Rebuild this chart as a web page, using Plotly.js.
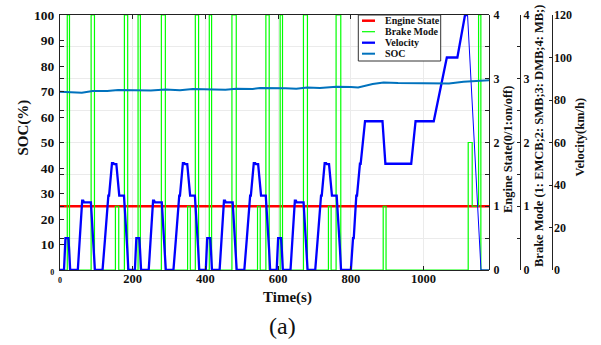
<!DOCTYPE html>
<html>
<head>
<meta charset="utf-8">
<script src="https://cdn.plot.ly/plotly-3.0.1.min.js"></script>
<style>html,body{margin:0;padding:0;background:#fff;}#chart{width:601px;height:345px;}</style>
</head>
<body>
<div id="chart"></div>
<script>
// ---- data ----
const seriesNames = ['Engine State', 'Brake Mode', 'Velocity', 'SOC'];

const engineTime = [0, 1180];
const engineState = [1, 1];

const brakeTime = [0, 20, 26.1, 85.6, 94.8, 152.4, 161.6, 177.1, 186.2, 214.7, 221.1, 278.8, 289.8,
  351, 358.4, 372.2, 381.2, 410.6, 417, 472.9, 484.8, 543.3, 550.7, 566.3, 575.4, 605.6, 612,
  669.6, 680.6, 738.3, 745.7, 759.4, 772.3, 889, 896.8, 1122.8, 1133.8, 1151.3, 1157.6, 1180];
const brakeMode = [0, 4, 0, 4, 0, 1, 0, 4, 0, 4, 0, 4, 0,
  1, 0, 4, 0, 4, 0, 4, 0, 1, 0, 4, 0, 4, 0,
  4, 0, 1, 0, 4, 0, 1, 0, 2, 1, 4, 0, 0];

const velTime = [
  0, 11, 15, 23, 25, 28, 49, 54, 56, 61, 64, 66, 85, 93, 96, 117, 122, 124, 133, 135, 143, 147, 149, 155, 163, 176, 185, 188,
  195, 206, 210, 218, 220, 223, 244, 249, 251, 256, 259, 261, 280, 288, 291, 312, 317, 319, 328, 330, 338, 342, 344, 350, 358, 371, 380, 383,
  390, 401, 405, 413, 415, 418, 439, 444, 446, 451, 454, 456, 475, 483, 486, 507, 512, 514, 523, 525, 533, 537, 539, 545, 553, 566, 575, 578,
  585, 596, 600, 608, 610, 613, 634, 639, 641, 646, 649, 651, 670, 678, 681, 702, 707, 709, 718, 720, 728, 732, 734, 740, 748, 761, 770, 773,
  780, 800, 806, 808, 815, 817, 825, 827, 839, 887, 895, 966, 978, 1028, 1064, 1093, 1114, 1121, 1158, 1180];
const velocity = [
  0, 0, 15, 15, 10, 0, 0, 15, 15, 32.6, 32.6, 31.8, 31.8, 10, 0, 0, 15, 15, 35, 35, 50.3, 50.3, 49.8, 49.8, 35, 35, 10, 0,
  0, 0, 15, 15, 10, 0, 0, 15, 15, 32.6, 32.6, 31.8, 31.8, 10, 0, 0, 15, 15, 35, 35, 50.3, 50.3, 49.8, 49.8, 35, 35, 10, 0,
  0, 0, 15, 15, 10, 0, 0, 15, 15, 32.6, 32.6, 31.8, 31.8, 10, 0, 0, 15, 15, 35, 35, 50.3, 50.3, 49.8, 49.8, 35, 35, 10, 0,
  0, 0, 15, 15, 10, 0, 0, 15, 15, 32.6, 32.6, 31.8, 31.8, 10, 0, 0, 15, 15, 35, 35, 50.3, 50.3, 49.8, 49.8, 35, 35, 10, 0,
  0, 0, 15, 15, 35, 35, 50, 50, 70, 70, 50, 50, 70, 70, 100, 100, 120, 120, 0, 0];
const velTailStart = 1121;

const socTime = [0, 30, 60, 90, 130, 160, 200, 250, 290, 330, 365, 410, 455, 485, 530, 550, 590, 620,
  650, 680, 715, 760, 800, 820, 860, 890, 930, 975, 1020, 1050, 1070, 1110, 1150, 1180];
const socValue = [69.9, 69.8, 69.5, 70.2, 70.2, 70.6, 70.6, 70.4, 70.8, 70.5, 71.0, 70.9, 70.7, 71.1, 71.0, 71.4, 71.5, 71.3,
  71.1, 71.6, 71.4, 71.9, 71.8, 71.6, 72.9, 73.5, 73.3, 73.2, 73.1, 72.9, 73.1, 73.8, 74.2, 74.4];

const xTickVals = [0, 200, 400, 600, 800, 1000];
const xTickText = ['<span style="font-size:8px">0</span>', '200', '400', '600', '800', '1000'];
const socTickVals = [0, 10, 20, 30, 40, 50, 60, 70, 80, 90, 100];
const socTickText = ['<span style="font-size:8px">0</span>', '10', '20', '30', '40', '50', '60', '70', '80', '90', '100'];
const stateTickVals = [0, 0.5, 1, 1.5, 2, 2.5, 3, 3.5, 4];
const stateTickText = ['0', '', '1', '', '2', '', '3', '', '4'];
const velTickVals = [0, 20, 40, 60, 80, 100, 120];

// ---- styling ----
const W = 601, H = 345;
const px = x => x / W;
const py = y => 1 - y / H;
const colors = ['#ff0000', '#00ff00', '#0000ff', '#0072bd'];
const widths = [2.5, 1.2, 2.3, 2];
const FONT = 'Liberation Serif';
const tickFont = {family: FONT, size: 12, color: '#111', weight: 'bold'};

const tailIdx = velTime.indexOf(velTailStart);

const traces = [
  {x: engineTime, y: engineState, yaxis: 'y', mode: 'lines', name: seriesNames[0],
   line: {color: colors[0], width: widths[0]}},
  {x: brakeTime, y: brakeMode, yaxis: 'y2', mode: 'lines', name: seriesNames[1],
   line: {color: colors[1], width: widths[1], shape: 'hv'}},
  {x: velTime.slice(0, tailIdx + 1), y: velocity.slice(0, tailIdx + 1), yaxis: 'y3', mode: 'lines', name: seriesNames[2],
   line: {color: colors[2], width: widths[2]}},
  {x: velTime.slice(tailIdx), y: velocity.slice(tailIdx), yaxis: 'y3', mode: 'lines', name: seriesNames[2],
   line: {color: colors[2], width: 1}},
  {x: socTime, y: socValue, yaxis: 'y4', mode: 'lines', name: seriesNames[3],
   line: {color: colors[3], width: widths[3]}}
];

const shapes = [{type: 'rect', xref: 'paper', yref: 'paper', x0: px(358.3), x1: px(440.7), y0: py(61), y1: py(15),
  line: {color: '#333', width: 1}, fillcolor: '#fff', layer: 'above'}];
const annotations = [];
seriesNames.forEach((n, i) => {
  const yy = py(20.7 + i * 11);
  shapes.push({type: 'line', xref: 'paper', yref: 'paper', x0: px(362), x1: px(375), y0: yy, y1: yy,
    line: {color: colors[i], width: widths[i]}, layer: 'above'});
  annotations.push({xref: 'paper', yref: 'paper', x: px(382.5), y: yy, xanchor: 'left', yanchor: 'middle',
    text: n, showarrow: false, font: {family: FONT, size: 10, color: '#111', weight: 'bold'}});
});
const titleFont = s => ({family: FONT, size: s, color: '#111', weight: 'bold'});
annotations.push(
  {xref: 'paper', yref: 'paper', x: px(22.5), y: py(128), text: 'SOC(%)', textangle: -90, showarrow: false,
   xanchor: 'center', yanchor: 'middle', font: titleFont(15)},
  {xref: 'paper', yref: 'paper', x: px(508), y: py(150), text: 'Engine State(0/1:on/off)', textangle: -90, showarrow: false,
   xanchor: 'center', yanchor: 'middle', font: titleFont(12.5)},
  {xref: 'paper', yref: 'paper', x: px(539), y: py(136), text: 'Brake Mode (1: EMCB;2: SMB;3: DMB;4: MB;)', textangle: -90, showarrow: false,
   xanchor: 'center', yanchor: 'middle', font: titleFont(12.5)},
  {xref: 'paper', yref: 'paper', x: px(579), y: py(137.5), text: 'Velocity(km/h)', textangle: -90, showarrow: false,
   xanchor: 'center', yanchor: 'middle', font: titleFont(12.5)},
  {xref: 'paper', yref: 'paper', x: px(287), y: py(297), text: 'Time(s)', showarrow: false,
   xanchor: 'center', yanchor: 'middle', font: titleFont(15)},
  {xref: 'paper', yref: 'paper', x: px(282.5), y: py(326), text: '(a)', showarrow: false,
   xanchor: 'center', yanchor: 'middle', font: {family: FONT, size: 24, color: '#111', weight: 'normal'}}
);

const axisCommon = {showline: true, linecolor: '#222', linewidth: 1, zeroline: false, tickfont: tickFont,
  ticks: 'inside', tickcolor: '#222', fixedrange: true};

const layout = {
  width: W, height: H,
  margin: {l: 0, r: 0, t: 0, b: 0},
  paper_bgcolor: '#fff', plot_bgcolor: '#fff',
  showlegend: false,
  font: {family: FONT, size: 12, color: '#111'},
  xaxis: Object.assign({}, axisCommon, {
    domain: [px(60), px(489)], range: [0, 1180], tickmode: 'array', tickvals: xTickVals, ticktext: xTickText,
    ticklen: 4, mirror: 'ticks', showgrid: true, gridcolor: '#ebebeb', gridwidth: 1, ticklabelstandoff: -3,
    tickfont: Object.assign({}, tickFont, {size: 12.5})}),
  yaxis: Object.assign({}, axisCommon, {
    domain: [py(270), py(15)], range: [0, 4], side: 'right', anchor: 'free', position: px(489),
    tickmode: 'array', tickvals: stateTickVals, ticktext: stateTickText, ticklen: 4,
    showgrid: true, gridcolor: '#ebebeb', gridwidth: 1, ticklabelstandoff: 1}),
  yaxis2: Object.assign({}, axisCommon, {
    overlaying: 'y', anchor: 'free', position: px(520), side: 'right', range: [0, 4],
    tickmode: 'array', tickvals: stateTickVals, ticktext: stateTickText, ticklen: 3, showgrid: false}),
  yaxis3: Object.assign({}, axisCommon, {
    overlaying: 'y', anchor: 'free', position: px(551.5), side: 'right', range: [0, 120],
    tickmode: 'array', tickvals: velTickVals, ticklen: 3, showgrid: false, ticklabelstandoff: -1}),
  yaxis4: Object.assign({}, axisCommon, {
    overlaying: 'y', anchor: 'x', side: 'left', range: [0, 100],
    tickmode: 'array', tickvals: socTickVals, ticktext: socTickText, ticklen: 4, showgrid: false,
    ticklabelstandoff: 2, tickfont: Object.assign({}, tickFont, {size: 13.5}),
    minor: {tickmode: 'linear', tick0: 0, dtick: 12.5, ticks: 'inside', ticklen: 4, tickcolor: '#222', showgrid: false}}),
  shapes: shapes,
  annotations: annotations
};

Plotly.newPlot('chart', traces, layout, {displayModeBar: false, staticPlot: true});
</script>
</body>
</html>
